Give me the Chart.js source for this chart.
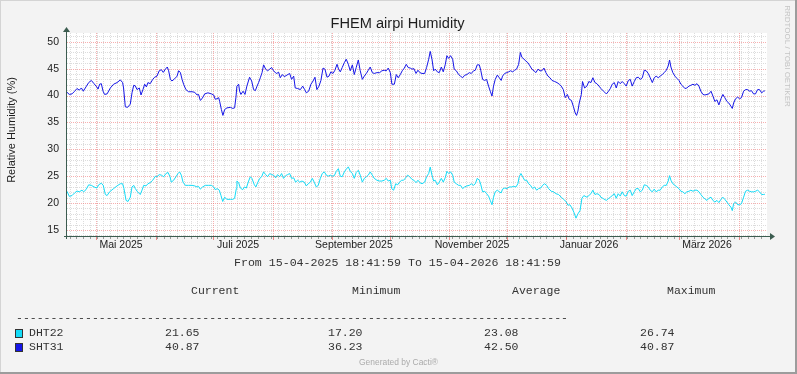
<!DOCTYPE html>
<html>
<head>
<meta charset="utf-8">
<script src="https://cdn.jsdelivr.net/npm/chart.js@4.4.1/dist/chart.umd.min.js"></script>
<style>
  html, body { margin: 0; padding: 0; background: #f3f3f3; }
  #wrap { width: 797px; height: 374px; position: relative; }
</style>
</head>
<body>
<div id="wrap"><canvas id="humidity"></canvas></div>
<script>
// days since 15-04-2025 18:41:59
const sht31Days = [
  0.0, 1.2, 2.6, 4.0, 5.2, 6.4, 7.5, 8.5, 9.9, 11.3, 12.7, 14.1, 15.5, 16.2, 17.0, 17.9, 18.8, 19.6, 20.9, 22.6,
  24.3, 26.1, 27.8, 29.0, 29.5, 30.4, 31.6, 33.0, 33.9, 34.8, 35.6, 36.5, 37.7, 38.6, 39.6, 40.5, 41.4, 42.2, 43.4, 44.7,
  45.7, 46.9, 48.1, 49.2, 50.2, 51.3, 52.3, 53.0, 53.9, 54.7, 56.1, 57.4, 58.2, 59.1, 60.0, 60.8, 62.0, 63.4, 65.2, 66.6,
  67.8, 68.6, 69.5, 70.4, 71.8, 73.5, 75.3, 76.5, 77.3, 78.2, 79.1, 79.6, 80.5, 81.3, 82.2, 83.4, 85.2, 86.4, 87.4, 88.1,
  88.6, 89.5, 90.0, 90.7, 91.8, 92.8, 93.8, 95.2, 96.3, 97.3,
  98.2, 99.1, 99.9, 100.8, 101.7, 102.5, 103.6, 104.6, 105.7, 106.7,
  107.7, 109.1, 110.4, 111.2, 112.3, 113.3, 114.7, 116.1, 117.1, 118.2,
  119.0, 120.3, 121.7, 122.9, 123.9, 124.8, 126.0, 127.2, 128.3, 129.3,
  130.3, 131.4, 132.4, 133.5, 134.5, 135.6, 136.6, 137.6, 138.7, 139.7,
  140.8, 141.6, 142.5, 143.5, 144.6, 145.6, 146.7, 147.7, 148.8, 149.8,
  150.8, 151.9, 152.9, 154.0, 155.0, 156.1, 157.1, 158.1, 159.2, 160.2,
  161.6, 163.0, 164.2, 165.4, 166.5, 167.5, 168.6, 169.4, 170.7, 171.7,
  172.7, 173.8, 174.8, 175.9, 176.9, 177.9, 179.0,
  179.9, 180.9, 182.0, 183.0, 184.0, 185.1, 186.5, 187.5, 188.6, 189.4,
  190.3, 191.2, 192.0, 193.1, 194.1, 195.2, 196.2, 197.2, 198.1, 199.0,
  200.0, 201.1, 201.9, 203.0, 204.2, 205.2, 206.3, 207.3, 208.5, 209.8,
  210.8, 212.0, 212.9, 213.9, 215.0, 215.8, 216.7, 217.8, 218.8, 219.8,
  220.7, 221.6, 222.4, 223.3, 224.4, 225.4, 226.4, 227.1, 228.2, 229.2,
  230.3, 231.3, 232.4, 233.4, 234.4, 235.5, 236.4, 237.2, 238.3, 239.3,
  240.3, 241.4, 242.4, 243.5, 244.5, 245.6, 246.6, 247.6, 248.7, 249.7,
  250.8, 251.8, 252.9, 254.3, 255.5, 256.7, 257.7, 258.8, 259.8, 260.9,
  261.9, 263.0, 264.0, 265.0, 265.7, 266.4, 267.1, 268.2, 268.8, 269.9,
  271.1, 272.1, 273.2, 274.2, 275.3, 276.3, 277.4, 278.4, 279.8, 281.2,
  282.2, 283.3, 284.3, 285.4, 286.4, 287.4, 288.5, 289.5, 290.6, 291.6,
  292.7, 293.7, 294.7, 295.8, 296.8, 297.9, 298.9, 300.0, 301.0, 302.0,
  303.1, 304.1, 305.2, 306.2, 307.2, 308.3, 309.3, 310.4, 311.4, 312.5,
  313.5, 314.2, 314.9, 315.9, 317.0, 318.0, 319.1, 320.1, 321.1, 322.2,
  323.2, 324.3, 325.3, 326.4, 327.4, 328.5, 329.5, 330.5, 331.6, 332.6,
  333.7, 334.7, 335.8, 336.8, 337.8, 338.9, 339.9, 341.0, 342.0, 343.0,
  344.1, 345.1, 346.2, 346.9, 347.6, 348.6, 349.7, 350.7, 351.7, 352.8,
  353.8, 354.9, 355.9, 356.9, 358.0, 359.0, 360.1, 361.1, 362.2, 363.2,
  363.9
];
const sht31Hum = [
  40.6, 40.2, 40.3, 40.8, 41.3, 41.0, 41.4, 40.8, 41.6, 42.4, 42.8, 42.2, 41.6, 41.2, 42.1, 42.2, 40.8, 40.2, 40.3, 41.4,
  42.1, 42.4, 42.9, 42.4, 41.4, 37.9, 37.8, 38.4, 40.5, 41.9, 41.8, 41.1, 41.4, 40.1, 41.1, 42.1, 41.6, 42.4, 42.2, 43.0,
  43.4, 43.6, 44.6, 44.8, 44.3, 44.9, 45.3, 44.6, 43.0, 42.7, 43.1, 43.6, 44.6, 44.3, 43.0, 42.1, 41.1, 40.7, 40.7, 40.6,
  40.1, 40.2, 39.1, 39.4, 40.3, 40.5, 40.3, 40.1, 39.3, 39.4, 39.6, 38.9, 37.4, 36.3, 37.4, 37.7, 37.8, 37.6, 37.7, 39.7,
  41.75, 42.1, 40.8, 40.2, 40.8, 40.2, 41.75, 43.4, 42.7, 41.1,
  40.9, 41.75, 42.4, 43.3, 44.25, 45.7, 44.9, 44.6, 44.9, 45.2,
  44.6, 44.1, 44.3, 43.3, 43.9, 43.5, 43.8, 44.1, 43.0, 43.6,
  41.4, 41.3, 41.1, 41.75, 41.1, 40.5, 40.8, 42.1, 42.7, 43.4,
  41.1, 41.75, 42.8, 45.1, 44.9, 43.4, 43.6, 44.4, 44.1, 44.7,
  45.8, 44.9, 44.4, 45.2, 46.1, 46.75, 45.8, 44.6, 45.7, 43.9,
  45.2, 46.6, 44.6, 43.0, 43.6, 44.1, 44.7, 45.3, 44.25, 44.1,
  44.25, 44.25, 44.6, 44.7, 44.6, 45.1, 44.25, 42.1, 42.1, 43.9,
  43.3, 43.9, 44.6, 45.1, 45.8, 45.2, 45.1,
  44.9, 45.0, 44.1, 44.7, 44.25, 44.1, 44.1, 45.2, 46.75, 48.2,
  46.75, 44.6, 44.9, 44.4, 44.25, 45.3, 44.4, 45.7, 47.4, 46.9,
  47.4, 46.75, 44.9, 44.6, 43.9, 43.6, 43.3, 43.75, 43.9, 44.25,
  44.1, 44.6, 44.7, 45.7, 45.7, 44.6, 43.0, 42.8, 43.0, 41.75,
  40.8, 39.9, 41.75, 43.0, 43.8, 43.3, 42.8, 43.6, 44.1, 44.25,
  44.4, 44.6, 44.4, 44.7, 44.9, 45.8, 48.0, 47.1, 46.75, 46.4,
  46.1, 45.5, 44.9, 44.6, 44.25, 44.9, 44.6, 44.6, 45.1, 44.25,
  43.6, 43.3, 42.8, 42.6, 42.4, 42.1, 41.75, 41.1, 39.6, 40.2,
  39.3, 39.1, 38.0, 36.75, 36.3, 37.1, 38.6, 40.2, 42.6, 41.4,
  41.75, 42.6, 42.4, 43.3, 42.4, 42.2, 41.75, 41.3, 40.8, 40.3,
  40.7, 41.3, 42.1, 42.4, 41.4, 42.6, 42.2, 42.6, 42.2, 41.75,
  42.8, 43.0, 41.75, 42.6, 43.3, 43.4, 43.0, 43.3, 44.7, 44.6,
  44.1, 43.3, 42.4, 43.3, 43.6, 43.3, 43.6, 43.9, 44.25, 44.7,
  45.5, 46.6, 45.3, 44.25, 43.6, 43.2, 42.8, 42.1, 41.75, 41.3,
  41.4, 41.75, 41.9, 42.1, 41.9, 42.2, 41.75, 40.8, 40.2, 40.1,
  40.2, 40.3, 40.8, 39.9, 38.9, 39.2, 38.25, 39.4, 40.2, 39.6,
  38.9, 38.6, 38.0, 37.6, 38.6, 39.4, 39.7, 39.4, 39.6, 40.8,
  41.1, 41.1, 40.8, 40.9, 40.3, 40.3, 41.1, 41.1, 40.5, 40.8,
  40.87
];

const dht22Days = [
  0.0, 1.2, 2.6, 4.0, 5.2, 6.4, 7.8, 8.7, 9.9, 11.3,
  12.7, 14.1, 15.6, 16.5, 17.9, 18.9, 20.0, 20.9, 22.2, 24.3,
  26.1, 27.8, 29.0, 29.7, 30.8, 31.8, 33.0, 33.9, 34.8, 35.6,
  36.8, 38.2, 39.1, 40.0, 41.2, 42.2, 43.4, 44.7, 46.1, 46.9,
  48.1, 49.2, 50.4, 51.6, 52.7, 53.7, 54.4, 55.6, 56.8, 57.9,
  58.7, 59.6, 60.5, 61.7, 63.4, 65.2, 66.6, 67.8, 68.6, 69.5,
  70.7, 72.1, 73.9, 75.3, 76.5, 77.3, 78.4, 79.4, 80.3, 81.2,
  82.2, 83.4, 85.2, 86.4, 87.4, 88.3,
  88.6, 89.5, 90.4, 91.6, 92.5, 93.5, 94.7, 95.6, 96.4, 97.7,
  98.5, 99.4, 100.5, 101.5, 102.5, 103.6, 104.6, 105.7, 106.7, 107.7,
  108.8, 109.8, 110.9, 111.9, 112.9, 114.0, 115.0, 116.1, 117.1, 118.2,
  119.2, 120.3, 121.3, 122.5, 123.7, 124.8, 125.8, 126.9, 127.9, 128.9,
  130.0, 131.0, 132.1, 133.1, 134.2, 135.2, 136.2, 137.3, 138.3, 139.4,
  140.4, 141.5, 142.5, 143.5, 144.6, 145.6, 146.7, 147.7, 148.8, 149.8,
  150.8, 151.9, 152.9, 154.0, 155.0, 156.1, 157.1, 158.1, 159.2, 160.2,
  161.6, 163.0, 164.2, 165.4, 166.5, 167.5, 168.6, 169.3, 170.3, 171.4,
  172.4, 173.4, 174.5, 175.5, 176.6, 177.6, 178.7,
  179.9, 180.9, 182.0, 183.0, 184.0, 185.1, 186.5, 187.5, 188.6, 189.4,
  190.3, 191.2, 192.0, 193.1, 194.1, 195.2, 196.2, 197.2, 198.1, 199.0,
  200.0, 201.1, 201.9, 203.0, 204.2, 205.2, 206.3, 207.3, 208.5, 209.8,
  210.8, 211.9, 212.9, 213.9, 215.0, 215.8, 216.7, 217.8, 218.8, 219.8,
  220.7, 221.6, 222.4, 223.3, 224.4, 225.4, 226.4, 227.1, 228.2, 229.4,
  230.6, 231.7, 232.9, 234.1, 235.1, 235.8, 236.7, 237.6, 238.6, 239.7,
  240.7, 241.7, 242.8, 243.8, 244.9, 245.9, 247.0, 248.0, 249.0, 250.1,
  251.1, 252.5, 253.7, 254.9, 256.3, 257.7, 258.9, 260.2, 261.2, 262.2,
  263.3, 264.3, 265.4, 266.4, 267.5, 268.5, 269.5,
  271.1, 272.1, 273.2, 274.2, 275.3, 276.3, 277.4, 278.4, 279.8, 281.2,
  282.2, 283.3, 284.3, 285.4, 286.4, 287.4, 288.5, 289.5, 290.6, 291.6,
  292.7, 293.7, 294.7, 295.8, 296.8, 297.9, 298.9, 300.0, 301.0, 302.0,
  303.1, 304.1, 305.2, 306.2, 307.2, 308.3, 309.3, 310.4, 311.4, 312.5,
  313.5, 314.2, 314.9, 315.9, 317.0, 318.0, 319.1, 320.1, 321.1, 322.2,
  323.2, 324.3, 325.3, 326.4, 327.4, 328.5, 329.5, 330.5, 331.6, 332.6,
  333.7, 334.7, 335.8, 336.8, 337.8, 338.9, 339.9, 341.0, 342.0, 343.0,
  344.1, 345.1, 346.2, 346.9, 347.6, 348.6, 349.7, 350.7, 351.7, 352.8,
  353.8, 354.9, 355.9, 356.9, 358.0, 359.0, 360.1, 361.1, 362.2, 363.2,
  363.9
];
const dht22Hum = [
  22.2, 21.25, 21.4, 21.9, 22.25, 22.1, 22.4, 22.1, 22.5, 23.4,
  23.3, 23.0, 22.8, 23.4, 23.7, 23.3, 21.6, 21.4, 22.1, 22.7,
  23.2, 23.6, 23.6, 22.7, 20.5, 20.3, 21.1, 23.0, 23.3, 22.7,
  22.1, 21.6, 22.4, 23.3, 23.2, 23.6, 23.8, 24.25, 25.0, 24.9,
  25.3, 25.2, 24.9, 25.5, 25.7, 24.9, 23.9, 24.25, 24.9, 25.5,
  25.8, 25.2, 23.9, 23.3, 23.3, 23.3, 23.2, 23.0, 23.1, 22.6,
  23.0, 23.3, 23.3, 23.3, 23.0, 22.5, 22.7, 22.4, 21.4, 20.3,
  21.1, 20.7, 20.7, 20.7, 20.9, 22.7,
  24.1, 23.8, 22.8, 22.5, 23.0, 22.8, 24.1, 24.9, 24.6, 23.4,
  23.0, 23.8, 24.6, 24.9, 25.8, 25.3, 24.9, 25.5, 25.3, 25.2,
  24.7, 25.3, 24.9, 25.5, 24.6, 25.1, 25.3, 25.5, 24.6, 24.7,
  23.9, 24.25, 23.9, 24.1, 23.9, 23.2, 23.6, 23.9, 24.6, 23.9,
  23.0, 23.3, 24.6, 25.5, 25.8, 25.2, 25.0, 25.2, 25.0, 25.1,
  25.9, 26.4, 25.0, 24.9, 25.8, 26.3, 26.74, 25.9, 25.5, 24.6,
  25.7, 26.1, 25.2, 23.9, 24.6, 24.9, 25.2, 25.8, 25.2, 24.6,
  24.25, 24.1, 24.1, 24.25, 24.6, 24.1, 24.25, 22.7, 22.4, 23.6,
  23.4, 23.9, 24.25, 24.25, 24.7, 25.2, 24.9,
  24.4, 24.25, 23.8, 24.25, 23.8, 23.6, 23.9, 24.9, 25.5, 26.7,
  25.2, 24.1, 24.25, 23.4, 23.9, 24.6, 23.9, 24.7, 25.9, 25.5,
  25.8, 25.2, 23.9, 23.6, 23.3, 23.3, 22.7, 23.0, 23.2, 23.3,
  23.6, 23.3, 23.6, 24.6, 24.25, 23.4, 22.1, 22.2, 21.75, 21.3,
  20.5, 19.7, 21.1, 22.1, 22.4, 22.1, 21.9, 22.6, 22.8, 22.7,
  23.0, 23.0, 23.1, 23.0, 23.6, 24.9, 25.5, 24.9, 24.25, 24.25,
  23.6, 23.3, 22.7, 23.0, 22.4, 22.7, 22.8, 23.3, 23.6, 23.3,
  22.7, 22.2, 22.1, 21.75, 21.6, 21.1, 20.7, 20.3, 19.6, 19.7,
  19.1, 18.3, 17.2, 18.0, 18.6, 20.9, 21.4,
  21.1, 21.4, 21.75, 22.4, 21.6, 21.75, 21.6, 21.1, 20.8, 20.5,
  20.8, 21.1, 21.4, 21.75, 20.9, 21.75, 21.3, 22.1, 21.4, 21.3,
  22.2, 22.4, 21.4, 22.1, 22.7, 22.7, 22.1, 22.4, 23.4, 23.3,
  23.0, 22.4, 22.1, 22.6, 22.1, 22.4, 22.4, 23.0, 23.3, 23.3,
  24.1, 25.1, 24.25, 23.6, 23.3, 23.0, 22.7, 22.2, 22.1, 21.75,
  22.1, 22.2, 22.4, 22.2, 22.4, 22.4, 22.1, 21.6, 21.1, 20.8,
  20.5, 20.9, 21.1, 20.5, 20.2, 20.5, 20.1, 20.7, 21.1, 20.7,
  20.2, 19.7, 19.25, 18.6, 19.9, 20.2, 19.7, 19.7, 19.9, 21.1,
  22.2, 22.4, 22.2, 22.1, 22.1, 22.2, 22.4, 22.1, 21.6, 21.6,
  21.65
];

// x axis: month labels and month starts (days since start)
const monthLabels = ['Mai 2025', 'Juli 2025', 'September 2025', 'November 2025', 'Januar 2026', 'März 2026'];
const labelDays = [28.2, 89.2, 149.6, 211.2, 272.2, 333.7];
const monthStarts = [15.22, 46.22, 76.22, 107.22, 138.22, 168.22, 199.26, 229.26, 260.26, 291.26, 319.26, 350.22];
const yLabels = [15, 20, 25, 30, 35, 40, 45, 50];

const statHeaders = ['Current', 'Minimum', 'Average', 'Maximum'];
const dht22Stats = ['21.65', '17.20', '23.08', '26.74'];
const sht31Stats = ['40.87', '36.23', '42.50', '40.87'];

const DHT22_COLOR = '#14dbf7';
const SHT31_COLOR = '#1616e8';
const AXIS_COLOR = '#3c5c50';

const rrdLook = {
  id: 'rrdLook',
  beforeDraw(chart) {
    const { ctx, width, height, chartArea: a } = chart;
    ctx.save();
    ctx.fillStyle = '#f3f3f3';
    ctx.fillRect(0, 0, width, height);
    // frame
    ctx.fillStyle = '#d4d4d4';
    ctx.fillRect(0, 0, width, 1);
    ctx.fillRect(0, 0, 1, height);
    ctx.fillStyle = '#9c9c9c';
    ctx.fillRect(0, height - 2, width, 2);
    ctx.fillRect(width - 2, 0, 2, height);
    ctx.fillStyle = '#ffffff';
    ctx.fillRect(a.left, a.top, a.right - a.left, a.bottom - a.top);
    ctx.restore();
  },
  beforeDatasetsDraw(chart) {
    const { ctx, chartArea: a, scales: { x, y } } = chart;
    ctx.save();
    ctx.lineWidth = 1;
    ctx.setLineDash([1, 1]);
    const hLine = (v, color) => {
      const py = Math.round(y.getPixelForValue(v)) + 0.5;
      ctx.strokeStyle = color;
      ctx.beginPath(); ctx.moveTo(a.left, py); ctx.lineTo(a.right, py); ctx.stroke();
    };
    const vLine = (d, color) => {
      const px = Math.round(x.getPixelForValue(d)) + 0.5;
      ctx.strokeStyle = color;
      ctx.beginPath(); ctx.moveTo(px, a.top); ctx.lineTo(px, a.bottom); ctx.stroke();
    };
    for (let v = Math.ceil(y.min); v <= y.max; v++) {
      if (v % 5 !== 0) hLine(v, '#dcdcdc');
    }
    for (let d = 1.4; d < x.max; d += 3.5) vLine(d, '#dcdcdc');
    yLabels.forEach(v => hLine(v, 'rgba(240,110,110,0.55)'));
    monthStarts.forEach(d => vLine(d, 'rgba(240,110,110,0.55)'));
    ctx.restore();
  },
  afterDatasetsDraw(chart) {
    const { ctx, chartArea: a, scales: { x } } = chart;
    ctx.save();
    // small tick marks under the x axis
    ctx.lineWidth = 1;
    ctx.strokeStyle = '#9a9a9a';
    for (let d = 1.4; d < x.max; d += 3.5) {
      const px = Math.round(x.getPixelForValue(d)) + 0.5;
      ctx.beginPath(); ctx.moveTo(px, a.bottom); ctx.lineTo(px, a.bottom + 2); ctx.stroke();
    }
    ctx.strokeStyle = 'rgba(230,90,90,0.7)';
    monthStarts.forEach(d => {
      const px = Math.round(x.getPixelForValue(d)) + 0.5;
      ctx.beginPath(); ctx.moveTo(px, a.bottom); ctx.lineTo(px, a.bottom + 3); ctx.stroke();
    });
    // axes with arrows
    const ax = a.left - 0.5, ay = a.bottom - 0.5;
    ctx.strokeStyle = AXIS_COLOR;
    ctx.fillStyle = AXIS_COLOR;
    ctx.beginPath();
    ctx.moveTo(ax, a.bottom + 2); ctx.lineTo(ax, a.top - 2);
    ctx.moveTo(a.left - 3, ay); ctx.lineTo(a.right + 4, ay);
    ctx.stroke();
    ctx.beginPath();
    ctx.moveTo(ax, a.top - 6); ctx.lineTo(ax - 3.5, a.top - 1); ctx.lineTo(ax + 3.5, a.top - 1); ctx.closePath();
    ctx.fill();
    ctx.beginPath();
    ctx.moveTo(a.right + 8, ay); ctx.lineTo(a.right + 3, ay - 3.5); ctx.lineTo(a.right + 3, ay + 3.5); ctx.closePath();
    ctx.fill();
    ctx.restore();
  },
  afterDraw(chart) {
    const { ctx } = chart;
    ctx.save();
    ctx.fillStyle = '#1e1e1e';
    ctx.font = '15.5px "Liberation Sans"';
    ctx.textAlign = 'center';
    ctx.textBaseline = 'alphabetic';
    ctx.fillText('FHEM airpi Humidity', 397.5, 28, 134);

    ctx.save();
    ctx.translate(15, 130);
    ctx.rotate(-Math.PI / 2);
    ctx.font = '11px "Liberation Sans"';
    ctx.textBaseline = 'alphabetic';
    ctx.fillText('Relative Humidity (%)', 0, 0);
    ctx.restore();

    ctx.save();
    ctx.translate(785, 56);
    ctx.rotate(Math.PI / 2);
    ctx.fillStyle = '#c4c4c4';
    ctx.font = '8px "Liberation Sans"';
    ctx.textBaseline = 'alphabetic';
    ctx.fillText('RRDTOOL / TOBI OETIKER', 0, 0, 102);
    ctx.restore();

    ctx.fillStyle = '#333333';
    ctx.textBaseline = 'middle';
    ctx.font = '11.6px "Liberation Mono"';
    ctx.fillText('From 15-04-2025 18:41:59 To 15-04-2026 18:41:59', 397.5, 263);

    ctx.textAlign = 'left';
    ctx.font = '11.5px "Liberation Mono"';
    const cols = [191, 352, 512, 667];
    const valCols = [165, 328, 484, 640];
    statHeaders.forEach((h, i) => ctx.fillText(h, cols[i], 291));
    ctx.fillText('-'.repeat(80), 16, 318, 552);

    const rows = [
      { name: 'DHT22', color: DHT22_COLOR, stats: dht22Stats, y: 333 },
      { name: 'SHT31', color: SHT31_COLOR, stats: sht31Stats, y: 347 }
    ];
    rows.forEach(r => {
      ctx.fillStyle = r.color;
      ctx.fillRect(15, r.y - 4, 8, 9);
      ctx.strokeStyle = '#333333';
      ctx.lineWidth = 1;
      ctx.strokeRect(15.5, r.y - 3.5, 7, 8);
      ctx.fillStyle = '#333333';
      ctx.fillText(r.name, 29, r.y);
      r.stats.forEach((s, i) => ctx.fillText(s, valCols[i], r.y));
    });

    ctx.textAlign = 'center';
    ctx.fillStyle = '#ababab';
    ctx.font = '8.5px "Liberation Sans"';
    ctx.fillText('Generated by Cacti®', 398.5, 363, 79);
    ctx.restore();
  }
};

const tickFont = { family: '"Liberation Sans", Arial, sans-serif', size: 10.5 };

new Chart(document.getElementById('humidity'), {
  type: 'line',
  data: {
    datasets: [
      {
        label: 'SHT31',
        data: sht31Days.map((d, i) => ({ x: d, y: sht31Hum[i] })),
        borderColor: SHT31_COLOR,
        backgroundColor: SHT31_COLOR
      },
      {
        label: 'DHT22',
        data: dht22Days.map((d, i) => ({ x: d, y: dht22Hum[i] })),
        borderColor: DHT22_COLOR,
        backgroundColor: DHT22_COLOR
      }
    ]
  },
  options: {
    responsive: true,
    maintainAspectRatio: false,
    animation: false,
    layout: { padding: { top: 33, right: 30, left: 0, bottom: 0 } },
    elements: {
      point: { radius: 0 },
      line: { borderWidth: 1, tension: 0 }
    },
    plugins: {
      legend: { display: false },
      tooltip: { enabled: false },
      title: { display: false }
    },
    scales: {
      x: {
        type: 'linear',
        min: 0,
        max: 365,
        grid: { display: false, drawTicks: false },
        border: { display: false },
        afterBuildTicks: (s) => { s.ticks = labelDays.map(v => ({ value: v })); },
        afterFit: (s) => { s.height = 137; },
        ticks: {
          autoSkip: false,
          maxRotation: 0,
          padding: 2,
          color: '#222222',
          font: tickFont,
          callback: (v, i) => monthLabels[i]
        }
      },
      y: {
        min: 13.7,
        max: 51.62,
        grid: { display: false, drawTicks: false },
        border: { display: false },
        afterBuildTicks: (s) => { s.ticks = yLabels.map(v => ({ value: v })); },
        afterFit: (s) => { s.width = 67; },
        ticks: {
          padding: 8,
          color: '#222222',
          font: tickFont,
          callback: (v) => String(v)
        }
      }
    }
  },
  plugins: [rrdLook]
});
</script>
</body>
</html>
